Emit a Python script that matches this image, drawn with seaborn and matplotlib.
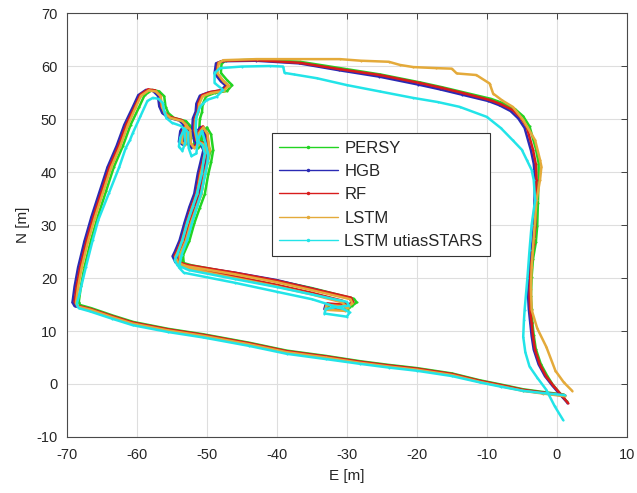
import matplotlib
matplotlib.use('Agg')
import matplotlib.pyplot as plt
from matplotlib.lines import Line2D
import pandas as pd
import seaborn as sns

# Trajectories (E, N) in metres
persy = [
    (1.4, -3.3), (0.4, -1.7), (-0.6, -0.1), (-1.4, 1.6), (-2.3, 3.8), (-3.0, 6.6), (-3.3, 9.2), (-3.5, 11.7),
    (-3.6, 14.2), (-3.7, 16.6), (-3.6, 20.2), (-3.4, 23.6), (-3.0, 26.7), (-2.8, 29.8), (-2.7, 34.2), (-2.6, 38.7),
    (-2.6, 41.7), (-3.0, 44.4), (-3.9, 48.6), (-4.8, 50.5), (-6.0, 51.9), (-7.7, 53.0), (-9.4, 53.8), (-13.2, 55.0),
    (-16.4, 56.0), (-19.5, 56.9), (-25.2, 58.4), (-31.0, 59.6), (-36.7, 60.8), (-42.9, 61.2), (-47.3, 61.0),
    (-47.9, 60.5), (-48.0, 58.7), (-47.1, 57.3), (-46.4, 56.4), (-47.1, 55.3), (-48.9, 54.9), (-50.1, 54.3),
    (-50.6, 52.8), (-50.7, 51.3), (-51.0, 50.0), (-51.1, 47.8), (-50.8, 45.8), (-49.9, 45.3), (-49.5, 44.0),
    (-49.9, 41.8), (-50.3, 39.6), (-50.8, 35.8), (-51.5, 33.3), (-52.2, 30.3), (-52.9, 27.0), (-53.6, 24.8),
    (-53.9, 24.0), (-53.5, 22.9), (-52.2, 22.4), (-46.0, 20.9), (-40.0, 19.5), (-35.0, 18.1), (-29.0, 16.1),
    (-28.6, 15.4), (-29.2, 14.8), (-32.5, 15.0), (-32.7, 14.2), (-29.9, 14.0), (-29.5, 14.6), (-30.3, 15.5),
    (-35.0, 17.1), (-40.0, 18.6), (-46.0, 20.2), (-51.8, 21.7), (-53.3, 22.6), (-53.4, 24.3), (-52.5, 27.0),
    (-51.8, 30.3), (-51.0, 33.3), (-50.3, 35.8), (-49.8, 39.6), (-49.4, 41.8), (-49.1, 44.1), (-49.4, 47.1),
    (-50.0, 48.4), (-50.6, 47.4), (-50.7, 45.1), (-51.3, 44.5), (-51.8, 45.4), (-51.9, 48.0), (-52.4, 48.7),
    (-52.9, 47.6), (-53.1, 45.6), (-52.6, 45.1), (-52.3, 46.4), (-52.5, 48.9), (-53.0, 49.6), (-54.7, 50.2),
    (-55.5, 51.1), (-55.9, 52.3), (-56.1, 54.3), (-56.8, 55.2), (-57.8, 55.5), (-58.9, 54.5), (-59.7, 52.2),
    (-60.9, 48.9), (-62.0, 44.9), (-63.3, 40.9), (-64.4, 36.4), (-65.6, 31.5), (-66.6, 26.9), (-67.5, 22.0),
    (-68.0, 18.4), (-68.3, 15.5), (-68.1, 14.9), (-66.5, 14.3), (-63.4, 12.9), (-60.5, 11.7), (-55.5, 10.4),
    (-50.6, 9.4), (-44.0, 7.8), (-38.6, 6.3), (-33.0, 5.3), (-28.1, 4.3), (-24.0, 3.6), (-20.0, 3.0),
    (-15.0, 2.0), (-11.0, 0.7), (-8.0, -0.1), (-4.8, -1.0), (-2.0, -1.5), (1.0, -2.0),
]

hgb = [
    (1.5, -3.5), (0.4, -1.9), (-0.7, -0.2), (-1.7, 1.5), (-2.6, 3.7), (-3.3, 6.5), (-3.6, 9.1), (-3.8, 11.6),
    (-4.0, 14.1), (-4.1, 16.5), (-4.0, 20.1), (-3.8, 23.5), (-3.5, 26.6), (-3.3, 29.7), (-3.2, 34.1), (-3.1, 38.6),
    (-3.3, 41.6), (-3.7, 44.1), (-4.6, 48.3), (-5.5, 50.1), (-6.6, 51.5), (-8.2, 52.6), (-9.8, 53.4), (-13.6, 54.6),
    (-16.7, 55.6), (-19.8, 56.5), (-25.4, 58.0), (-31.1, 59.2), (-36.8, 60.5), (-43.0, 61.0), (-47.9, 60.9),
    (-48.7, 60.5), (-48.9, 58.6), (-48.0, 57.1), (-47.3, 56.3), (-48.0, 55.4), (-49.8, 55.0), (-51.0, 54.4),
    (-51.5, 52.9), (-51.6, 51.4), (-52.0, 50.1), (-52.1, 47.9), (-51.8, 45.9), (-50.9, 45.4), (-50.5, 44.1),
    (-50.9, 41.9), (-51.3, 39.7), (-51.8, 35.9), (-52.5, 33.4), (-53.2, 30.4), (-53.9, 27.1), (-54.6, 24.9),
    (-54.9, 24.1), (-54.5, 23.0), (-53.2, 22.4), (-46.0, 21.0), (-40.0, 19.6), (-35.0, 18.0), (-29.6, 16.2),
    (-29.3, 15.4), (-29.9, 14.8), (-33.0, 15.1), (-33.2, 14.2), (-30.4, 14.0), (-30.0, 14.6), (-30.8, 15.6),
    (-35.0, 17.1), (-40.0, 18.6), (-46.0, 20.2), (-52.7, 21.8), (-54.2, 22.7), (-54.3, 24.4), (-53.4, 27.1),
    (-52.7, 30.4), (-51.9, 33.4), (-51.2, 35.9), (-50.7, 39.7), (-50.3, 41.9), (-50.0, 44.2), (-50.3, 47.2),
    (-50.9, 48.5), (-51.5, 47.5), (-51.6, 45.2), (-52.2, 44.6), (-52.7, 45.5), (-52.8, 48.1), (-53.3, 48.8),
    (-53.8, 47.7), (-54.0, 45.7), (-53.5, 45.2), (-53.2, 46.5), (-53.4, 49.0), (-53.9, 49.7), (-55.6, 50.3),
    (-56.4, 51.2), (-56.8, 52.4), (-57.0, 54.4), (-57.7, 55.3), (-58.7, 55.5), (-59.8, 54.5), (-60.6, 52.2),
    (-61.8, 48.9), (-62.9, 44.9), (-64.2, 40.9), (-65.3, 36.4), (-66.5, 31.5), (-67.5, 26.9), (-68.4, 22.0),
    (-68.9, 18.4), (-69.2, 15.4), (-68.9, 14.7), (-66.8, 14.1), (-63.6, 12.7), (-60.7, 11.5), (-55.6, 10.2),
    (-50.7, 9.2), (-44.1, 7.6), (-38.7, 6.1), (-33.1, 5.1), (-28.2, 4.1), (-24.1, 3.4), (-20.1, 2.8),
    (-15.1, 1.8), (-11.1, 0.5), (-8.1, -0.3), (-4.9, -1.2), (-2.1, -1.7), (1.0, -2.2),
]

rf = [
    (1.6, -3.6), (0.6, -2.0), (-0.5, -0.3), (-1.5, 1.4), (-2.4, 3.6), (-3.1, 6.4), (-3.4, 9.0), (-3.6, 11.5),
    (-3.8, 14.0), (-3.9, 16.4), (-3.8, 20.0), (-3.6, 23.4), (-3.3, 26.5), (-3.1, 29.6), (-3.0, 34.0), (-2.9, 38.5),
    (-3.0, 41.5), (-3.4, 44.2), (-4.3, 48.5), (-5.2, 50.3), (-6.3, 51.7), (-8.0, 52.8), (-9.6, 53.6), (-13.4, 54.9),
    (-16.5, 55.9), (-19.6, 56.8), (-25.3, 58.3), (-31.0, 59.4), (-36.7, 60.6), (-42.9, 61.1), (-47.7, 61.0),
    (-48.4, 60.6), (-48.6, 58.7), (-47.7, 57.2), (-47.0, 56.4), (-47.7, 55.5), (-49.5, 55.1), (-50.7, 54.5),
    (-51.2, 53.0), (-51.3, 51.5), (-51.7, 50.2), (-51.8, 48.0), (-51.5, 46.0), (-50.6, 45.5), (-50.2, 44.2),
    (-50.6, 42.0), (-51.0, 39.8), (-51.5, 36.0), (-52.2, 33.5), (-52.9, 30.5), (-53.6, 27.2), (-54.3, 25.0),
    (-54.6, 24.2), (-54.2, 23.1), (-52.9, 22.5), (-46.0, 21.0), (-40.0, 19.5), (-35.0, 18.0), (-29.4, 16.3),
    (-29.1, 15.5), (-29.7, 14.9), (-32.8, 15.2), (-33.0, 14.3), (-30.2, 14.1), (-29.8, 14.7), (-30.6, 15.7),
    (-35.0, 17.2), (-40.0, 18.7), (-46.0, 20.3), (-52.4, 21.9), (-53.9, 22.8), (-54.0, 24.5), (-53.1, 27.2),
    (-52.4, 30.5), (-51.6, 33.5), (-50.9, 36.0), (-50.4, 39.8), (-50.0, 42.0), (-49.7, 44.3), (-50.0, 47.3),
    (-50.6, 48.6), (-51.2, 47.6), (-51.3, 45.3), (-51.9, 44.7), (-52.4, 45.6), (-52.5, 48.2), (-53.0, 48.9),
    (-53.5, 47.8), (-53.7, 45.8), (-53.2, 45.3), (-52.9, 46.6), (-53.1, 49.1), (-53.6, 49.8), (-55.3, 50.4),
    (-56.1, 51.3), (-56.5, 52.5), (-56.7, 54.5), (-57.4, 55.4), (-58.4, 55.6), (-59.5, 54.6), (-60.3, 52.3),
    (-61.5, 49.0), (-62.6, 45.0), (-63.9, 41.0), (-65.0, 36.5), (-66.2, 31.6), (-67.2, 27.0), (-68.1, 22.1),
    (-68.6, 18.5), (-68.9, 15.5), (-68.6, 14.8), (-66.7, 14.2), (-63.5, 12.8), (-60.6, 11.6), (-55.5, 10.3),
    (-50.6, 9.3), (-44.0, 7.7), (-38.6, 6.2), (-33.0, 5.2), (-28.1, 4.2), (-24.0, 3.5), (-20.0, 2.9),
    (-15.0, 1.9), (-11.0, 0.6), (-8.0, -0.2), (-4.8, -1.1), (-2.0, -1.6), (1.1, -2.1),
]

lstm = [
    (2.2, -1.3), (1.0, 0.3), (-0.2, 2.5), (-1.5, 7.0), (-2.8, 10.5), (-3.6, 14.0), (-3.7, 18.0), (-3.6, 22.1),
    (-3.3, 27.5), (-2.9, 34.7), (-2.4, 38.5), (-2.2, 41.0), (-2.4, 42.3), (-3.1, 46.0), (-4.8, 49.8), (-6.3, 52.3),
    (-7.8, 53.5), (-9.1, 54.8), (-9.6, 56.7), (-11.5, 58.3), (-14.3, 58.6), (-15.0, 59.5), (-17.2, 59.6),
    (-20.5, 59.8), (-22.4, 60.2), (-24.0, 60.8), (-28.0, 61.0), (-31.0, 61.3), (-36.7, 61.3), (-42.9, 61.3),
    (-47.6, 61.1), (-48.3, 60.6), (-48.5, 58.7), (-47.6, 57.1), (-46.9, 56.3), (-47.6, 55.3), (-49.4, 54.9),
    (-50.6, 54.3), (-51.1, 52.8), (-51.2, 51.3), (-51.6, 50.0), (-51.7, 47.8), (-51.4, 45.8), (-50.5, 45.3),
    (-50.1, 44.0), (-50.5, 41.8), (-50.9, 39.6), (-51.4, 35.8), (-52.1, 33.3), (-52.8, 30.3), (-53.5, 27.0),
    (-54.2, 24.8), (-54.5, 24.0), (-54.1, 22.8), (-52.8, 22.2), (-46.0, 20.7), (-40.0, 19.2), (-35.0, 17.7),
    (-29.5, 16.0), (-29.2, 15.2), (-29.8, 14.6), (-32.9, 14.9), (-33.1, 14.0), (-30.3, 13.8), (-29.9, 14.4),
    (-30.7, 15.4), (-35.0, 16.9), (-40.0, 18.4), (-46.0, 20.0), (-52.4, 21.7), (-53.8, 22.6), (-53.9, 24.3),
    (-53.0, 27.0), (-52.3, 30.3), (-51.5, 33.3), (-50.8, 35.8), (-50.3, 39.6), (-49.9, 41.8), (-49.6, 44.1),
    (-49.9, 47.1), (-50.5, 48.4), (-51.1, 47.4), (-51.2, 45.1), (-51.8, 44.5), (-52.3, 45.4), (-52.4, 48.0),
    (-52.9, 48.7), (-53.4, 47.6), (-53.6, 45.6), (-53.1, 45.1), (-52.8, 46.4), (-53.0, 48.9), (-53.5, 49.6),
    (-55.2, 50.2), (-56.0, 51.1), (-56.4, 52.3), (-56.6, 54.3), (-57.3, 55.2), (-58.3, 55.4), (-59.4, 54.4),
    (-60.2, 52.1), (-61.3, 48.8), (-62.4, 44.8), (-63.7, 40.8), (-64.8, 36.3), (-66.0, 31.4), (-67.0, 26.8),
    (-67.9, 21.9), (-68.4, 18.3), (-68.7, 15.3), (-68.4, 14.6), (-66.6, 14.0), (-63.5, 12.6), (-60.6, 11.4),
    (-55.5, 10.1), (-50.6, 9.1), (-44.0, 7.5), (-38.6, 6.0), (-33.0, 5.0), (-28.1, 4.0), (-24.0, 3.3),
    (-20.0, 2.7), (-15.0, 1.7), (-11.0, 0.4), (-8.0, -0.4), (-4.8, -1.3), (-2.0, -1.8), (1.1, -2.3),
]

lstm_utias = [
    (0.9, -6.8), (-0.3, -4.2), (-1.5, -1.1), (-2.8, 1.2), (-3.9, 3.3), (-4.5, 6.0), (-4.8, 8.9), (-4.7, 12.0),
    (-4.6, 14.0), (-4.2, 20.0), (-3.9, 25.3), (-3.6, 30.0), (-3.1, 34.7), (-3.3, 38.5), (-3.6, 40.4), (-4.3, 42.3),
    (-5.0, 44.2), (-6.3, 46.0), (-8.0, 48.3), (-10.0, 50.4), (-13.9, 52.3), (-17.0, 53.2), (-20.6, 54.0),
    (-25.3, 55.2), (-30.0, 56.4), (-34.3, 57.7), (-37.5, 58.4), (-38.9, 58.7), (-39.1, 59.9), (-41.0, 60.0),
    (-45.0, 59.9), (-48.1, 59.6), (-48.9, 58.7), (-48.9, 56.8), (-47.7, 55.5), (-48.6, 54.2), (-50.0, 53.6),
    (-51.0, 52.3), (-51.5, 50.4), (-51.6, 48.0), (-51.3, 45.8), (-50.6, 45.0), (-50.3, 43.5), (-50.5, 42.0),
    (-50.7, 39.8), (-51.4, 36.0), (-52.0, 33.5), (-52.8, 30.5), (-53.5, 27.2), (-54.2, 24.5), (-54.6, 23.3),
    (-54.2, 22.4), (-52.6, 21.5), (-46.0, 19.8), (-40.0, 18.3), (-35.0, 16.9), (-30.0, 15.5), (-29.7, 14.8),
    (-33.0, 14.2), (-33.2, 13.3), (-30.0, 12.7), (-29.6, 13.5), (-30.4, 14.1), (-35.0, 16.0), (-40.0, 17.4),
    (-46.0, 19.1), (-53.3, 21.0), (-54.0, 22.0), (-53.6, 24.4), (-52.8, 27.2), (-52.1, 30.5), (-51.4, 33.5),
    (-50.8, 36.0), (-50.2, 39.8), (-49.9, 42.0), (-49.8, 43.3), (-50.2, 45.5), (-50.7, 47.8), (-51.3, 46.0),
    (-51.5, 43.5), (-52.2, 43.0), (-52.6, 44.5), (-52.7, 47.5), (-53.2, 48.2), (-53.8, 46.5), (-54.0, 44.8),
    (-53.5, 44.0), (-53.1, 45.5), (-53.2, 48.0), (-53.7, 48.7), (-55.0, 49.3), (-55.8, 50.2), (-56.1, 51.5),
    (-56.3, 53.0), (-56.9, 53.8), (-57.7, 54.0), (-58.5, 53.4), (-59.5, 50.5), (-60.6, 47.3), (-61.0, 46.0),
    (-61.6, 44.5), (-62.5, 41.0), (-64.0, 36.0), (-65.5, 31.0), (-66.3, 27.2), (-67.3, 22.0), (-68.2, 17.0),
    (-68.6, 15.0), (-68.3, 14.3), (-66.7, 13.7), (-63.5, 12.3), (-60.6, 11.1), (-55.5, 9.8), (-50.6, 8.8),
    (-44.0, 7.2), (-38.6, 5.7), (-33.0, 4.7), (-28.1, 3.8), (-24.0, 3.1), (-20.0, 2.5), (-15.0, 1.5),
    (-11.0, 0.3), (-8.0, -0.5), (-4.8, -1.3), (-2.0, -1.7), (1.1, -2.1),
]

methods = ['PERSY', 'HGB', 'RF', 'LSTM', 'LSTM utiasSTARS']
tracks = [persy, hgb, rf, lstm, lstm_utias]
colors = ['#22d422', '#2a2ab4', '#d81c1c', '#e4aa3a', '#22e4e8']

rows = []
for name, track in zip(methods, tracks):
    for i, (e, n) in enumerate(track):
        rows.append({'Method': name, 'step': i, 'E': e, 'N': n})
df = pd.DataFrame(rows)

sns.set_theme(style='whitegrid')
plt.rcParams['font.family'] = ['Liberation Sans', 'DejaVu Sans']
plt.rcParams['axes.unicode_minus'] = False

fig = plt.figure(figsize=(6.37, 4.93), dpi=100)
ax = fig.add_axes([0.105, 0.1136, 0.879, 0.86])
ax.set_facecolor('white')

sns.lineplot(data=df, x='E', y='N', hue='Method', hue_order=methods,
             palette=dict(zip(methods, colors)), sort=False, estimator=None,
             linewidth=1.8, marker='.', markersize=3, markeredgewidth=0,
             legend=False, ax=ax)

ax.set_xlim(-70, 10)
ax.set_ylim(-10, 70)
ax.set_xticks(range(-70, 11, 10))
ax.set_yticks(range(-10, 71, 10))
ax.set_xlabel('E [m]', fontsize=11, color='#262626', labelpad=5)
ax.set_ylabel('N [m]', fontsize=11, color='#262626', labelpad=4)
ax.tick_params(axis='both', labelsize=10.5, colors='#262626', direction='in',
               length=4, width=0.6, top=True, right=True)
ax.tick_params(axis='x', pad=8)
ax.tick_params(axis='y', pad=7)
ax.grid(True, color='#dedede', linewidth=0.8)
for s in ax.spines.values():
    s.set_visible(True)
    s.set_color('#4a4a4a')
    s.set_linewidth(0.8)

handles = [Line2D([0], [0], color=c, lw=1, marker='.', markersize=3) for c in colors]
leg = ax.legend(handles, methods, loc='upper left', bbox_to_anchor=(0.366, 0.717),
                borderaxespad=0, fontsize=12, handlelength=3.5, handletextpad=0.4,
                labelspacing=0.5, borderpad=0.45, fancybox=False, framealpha=1)
leg.get_frame().set_edgecolor('#333333')
leg.get_frame().set_linewidth(0.8)

fig.savefig('out.png', dpi=100, facecolor='white')
